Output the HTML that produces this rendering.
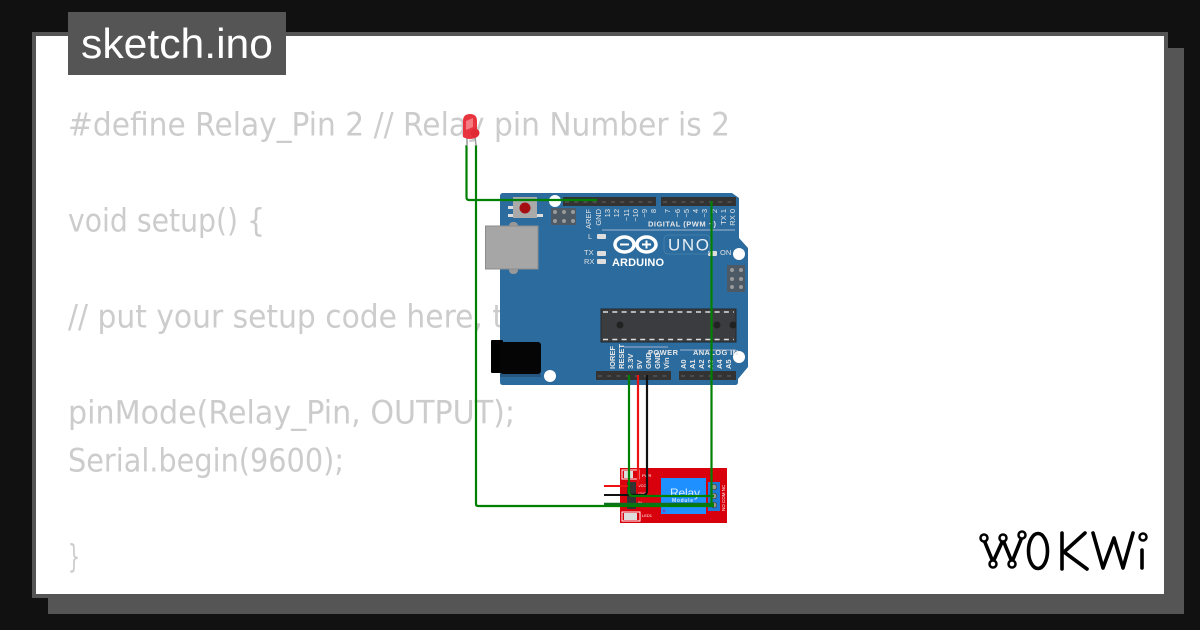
<!DOCTYPE html>
<html><head><meta charset="utf-8">
<style>
html,body{margin:0;padding:0;background:#111;width:1200px;height:630px;overflow:hidden}
svg{display:block}
</style></head>
<body>
<svg width="1200" height="630" viewBox="0 0 1200 630" xmlns="http://www.w3.org/2000/svg" font-family="'Liberation Sans',sans-serif">
<rect width="1200" height="630" fill="#111"/>
<rect x="48" y="48" width="1136" height="566" fill="#555"/>
<rect x="34" y="34" width="1132" height="562" fill="#fff" stroke="#555" stroke-width="4"/>
<rect x="68" y="12" width="218" height="63" fill="#555"/>
<text x="81" y="58" font-size="42" fill="#fff" textLength="192" lengthAdjust="spacingAndGlyphs">sketch.ino</text>
<g font-family="'DejaVu Sans',sans-serif" font-size="32" fill="#ccc">
<text x="68" y="135.500" textLength="662" lengthAdjust="spacingAndGlyphs">#define Relay_Pin 2 // Relay pin Number is 2</text>
<text x="68" y="231.500" textLength="197" lengthAdjust="spacingAndGlyphs">void setup() {</text>
<text x="68" y="327.500" textLength="436" lengthAdjust="spacingAndGlyphs">// put your setup code here, t</text>
<text x="68" y="423.500" textLength="447" lengthAdjust="spacingAndGlyphs">pinMode(Relay_Pin, OUTPUT);</text>
<text x="68" y="471.500" textLength="276" lengthAdjust="spacingAndGlyphs">Serial.begin(9600);</text>
<text x="68" y="567.500" textLength="12" lengthAdjust="spacingAndGlyphs">}</text>
</g>

<!-- Arduino board -->
<path d="M503 193H732L739 198V238L748 248V367L738 379V382Q738 385 735 385H503Q500 385 500 382V196Q500 193 503 193Z" fill="#2b6b9e"/>
<circle cx="555" cy="201" r="6" fill="#fff"/><circle cx="550" cy="376" r="6" fill="#fff"/>
<circle cx="739" cy="254" r="6" fill="#fff"/><circle cx="739" cy="357" r="6" fill="#fff"/>
<!-- USB -->
<rect x="509" y="222" width="9" height="52" rx="4" fill="#999"/>
<rect x="485.500" y="226" width="52.500" height="43" fill="#a6a6a6" stroke="#8c8c8c"/>
<!-- reset -->
<rect x="508" y="206" width="6" height="3" fill="#ddd"/><rect x="508" y="214" width="6" height="3" fill="#ddd"/><rect x="537" y="214" width="6" height="3" fill="#ddd"/>
<rect x="513" y="197" width="24" height="21" fill="#aaa"/>
<circle cx="525" cy="208" r="5.500" fill="#a50f14"/>
<!-- ICSP -->
<rect x="551" y="208" width="25" height="17" fill="#4d5a66"/>
<g fill="#9a9a9a"><circle cx="555" cy="212" r="2"/><circle cx="564" cy="212" r="2"/><circle cx="573" cy="212" r="2"/><circle cx="555" cy="221" r="2"/><circle cx="564" cy="221" r="2"/><circle cx="573" cy="221" r="2"/></g>
<rect x="727" y="265" width="18" height="27" fill="#4d5a66"/>
<g fill="#9a9a9a"><circle cx="732" cy="270" r="2"/><circle cx="741" cy="270" r="2"/><circle cx="732" cy="279" r="2"/><circle cx="741" cy="279" r="2"/><circle cx="732" cy="287" r="2"/><circle cx="741" cy="287" r="2"/></g>
<!-- headers -->
<g fill="#333">
<rect x="563" y="197" width="93" height="9"/><rect x="661" y="197" width="75" height="9"/>
<rect x="596" y="371" width="75" height="9"/><rect x="679" y="371" width="57" height="9"/>
</g>
<g stroke="#555" stroke-width="1.500" stroke-dasharray="4 5.200">
<path d="M565 202H656M663 202H736M598 376H671M681 376H736"/>
</g>
<!-- pin labels -->
<g fill="#e8e8e8" font-size="7.500" text-anchor="end">
<text transform="translate(591,209) rotate(-90)" text-anchor="end">AREF</text>
<text transform="translate(601,209) rotate(-90)">GND</text>
<text transform="translate(610,209) rotate(-90)">13</text>
<text transform="translate(619,209) rotate(-90)">12</text>
<text transform="translate(629,209) rotate(-90)">~11</text>
<text transform="translate(638,209) rotate(-90)">~10</text>
<text transform="translate(647,209) rotate(-90)">~9</text>
<text transform="translate(656,209) rotate(-90)">8</text>
<text transform="translate(670,209) rotate(-90)">7</text>
<text transform="translate(680,209) rotate(-90)">~6</text>
<text transform="translate(689,209) rotate(-90)">~5</text>
<text transform="translate(698,209) rotate(-90)">4</text>
<text transform="translate(707,209) rotate(-90)">~3</text>
<text transform="translate(717,209) rotate(-90)">2</text>
<text transform="translate(726,209) rotate(-90)">TX 1</text>
<text transform="translate(735,209) rotate(-90)">RX 0</text>
</g>
<g fill="#e8e8e8" font-size="7.500" font-weight="bold">
<text transform="translate(615,369) rotate(-90)">IOREF</text>
<text transform="translate(624,369) rotate(-90)">RESET</text>
<text transform="translate(633,369) rotate(-90)">3.3V</text>
<text transform="translate(642,369) rotate(-90)">5V</text>
<text transform="translate(651,369) rotate(-90)">GND</text>
<text transform="translate(660,369) rotate(-90)">GND</text>
<text transform="translate(669,369) rotate(-90)">Vin</text>
<text transform="translate(686,369) rotate(-90)">A0</text>
<text transform="translate(695,369) rotate(-90)">A1</text>
<text transform="translate(704,369) rotate(-90)">A2</text>
<text transform="translate(713,369) rotate(-90)">A3</text>
<text transform="translate(722,369) rotate(-90)">A4</text>
<text transform="translate(731,369) rotate(-90)">A5</text>
<text x="648" y="226.500" font-size="7.500" textLength="68">DIGITAL (PWM ~)</text>
<text x="648" y="355" font-size="7.500" textLength="30">POWER</text>
<text x="693" y="355" font-size="7.500" textLength="45">ANALOG IN</text>
</g>
<g fill="#e0e0e0" font-size="7.500">
<text x="588" y="239">L</text><text x="584" y="255">TX</text><text x="584" y="264">RX</text><text x="720" y="255">ON</text>
</g>
<path d="M602 230H735" stroke="#ccd" stroke-width="0.800"/>
<path d="M624 347H668M680 350H736" stroke="#ccd" stroke-width="0.800" fill="none"/>
<g fill="#ddd"><rect x="597" y="234" width="9" height="5" rx="1"/><rect x="597" y="251" width="9" height="5" rx="1"/><rect x="597" y="259" width="9" height="5" rx="1"/><rect x="708" y="251" width="9" height="5" rx="1"/></g>
<!-- Logo -->
<g fill="none" stroke="#fff" stroke-width="3.500">
<ellipse cx="624.500" cy="244.500" rx="9.500" ry="7.500"/><ellipse cx="646.500" cy="244.500" rx="9.500" ry="7.500"/>
</g>
<path d="M620 244.500H629M642 244.500H651M646.500 240.500V248.500" stroke="#fff" stroke-width="2"/>
<text x="612" y="266" fill="#fff" font-weight="bold" font-size="11" textLength="52">ARDUINO</text>
<rect x="664" y="235" width="46" height="19" rx="4" fill="none" stroke="#4a82ad" stroke-width="0.800"/>
<text x="668" y="250.500" fill="#e8eef3" font-size="17" textLength="41">UNO</text>
<!-- Chip -->
<rect x="601" y="309" width="135" height="33" fill="#3a3c3f" stroke="#26282a"/>
<path d="M603 312H734M603 339.500H734" stroke="#ddd" stroke-width="1.500" stroke-dasharray="5 4.300"/>
<circle cx="620" cy="325" r="3.500" fill="#222"/><circle cx="717" cy="325" r="3.500" fill="#222"/><circle cx="733" cy="325" r="3.500" fill="#222"/>
<!-- Power jack -->
<rect x="491" y="340" width="12" height="33" rx="1" fill="#000"/>
<rect x="500" y="342" width="41" height="32" rx="3" fill="#050505"/>
<rect x="500" y="374" width="41" height="3" fill="#26567f"/>

<!-- Relay -->
<rect x="620" y="468" width="107" height="55" fill="#d9000d"/>
<rect x="661" y="478" width="45" height="36" fill="#1e90ff"/>
<text x="670" y="497" fill="#d6ecff" font-size="12" textLength="30">Relay</text>
<text x="672" y="502" fill="#d6ecff" font-size="5" font-weight="bold" textLength="21">Module</text>
<circle cx="664" cy="511" r="1.500" fill="#6a4fc0"/>
<rect x="708" y="482" width="12" height="29" fill="#1e78d8"/>
<g fill="#9a9a8e" stroke="#333" stroke-width="0.600"><circle cx="714" cy="487" r="2.800"/><circle cx="714" cy="496" r="2.800"/><circle cx="714" cy="505" r="2.800"/></g>
<rect x="622" y="470" width="17" height="9" fill="none" stroke="#fff"/><rect x="624" y="471" width="9" height="7" fill="#ddd"/>
<rect x="622" y="512" width="18" height="9" fill="none" stroke="#fff"/><rect x="624" y="513" width="13" height="7" fill="#ddd"/>
<rect x="627" y="482" width="9" height="27" fill="#333"/>
<g fill="#fff" font-size="4"><text x="642" y="477">PWR</text><text x="642" y="517">LED1</text><text x="638" y="487">VCC</text><text x="638" y="495">GND</text><text x="638" y="504">IN</text></g>
<g fill="#fff" font-size="4.500"><text transform="translate(725,511) rotate(-90)">NO COM NC</text></g>
<path d="M604 486H628" stroke="#ee1111" stroke-width="2"/>
<path d="M604 495H628" stroke="#111" stroke-width="2"/>
<path d="M604 504H714" stroke="#0c7020" stroke-width="2.500"/>

<!-- Wires -->
<g fill="none" stroke-width="2.200">
<path d="M638 375V486" stroke="#ee1111"/>
<path d="M647 375V491Q647 495 643 495H628" stroke="#111"/>
<path d="M629 375V492Q629 496 633 496H714" stroke="#008000"/>
<path d="M711.500 201V505" stroke="#008000"/>
<path d="M476 145V504Q476 506 478 506H714" stroke="#008000"/>
<path d="M466.500 145V197Q466.500 200 469 200H597" stroke="#008000"/>
</g>

<!-- LED -->
<path d="M467 136V146M475 136L476 146" stroke="#999" stroke-width="1.500" fill="none"/>
<path d="M463 137V121Q463 114 470 114Q477 114 477 121V137Q470 141 463 137Z" fill="#e8343e"/>
<circle cx="475" cy="133" r="4.500" fill="#e02a34"/>
<path d="M466 121L473 118V127L466 130Z" fill="#f47c82"/>

<!-- Wokwi logo -->
<g fill="none" stroke="#000" stroke-width="3.600" stroke-linecap="round" stroke-linejoin="round">
<path d="M984 540L993 562L1003 540L1012 562L1022 537"/>
<ellipse cx="1038" cy="551" rx="9.500" ry="17.500"/>
<path d="M1062 533V569M1085 533L1064 552L1087 569"/>
<path d="M1093 533L1103 568L1114 538L1123 568L1133 533"/>
<path d="M1142 550V568"/>
</g>
<g fill="#fff" stroke="#000" stroke-width="2.500">
<circle cx="984" cy="538" r="3.500"/><circle cx="1003" cy="538" r="3.500"/><circle cx="1022" cy="535" r="3.500"/><circle cx="993" cy="564" r="3.500"/><circle cx="1012" cy="564" r="3.500"/><circle cx="1143" cy="537" r="3.500"/>
</g>
</svg>
</body></html>
